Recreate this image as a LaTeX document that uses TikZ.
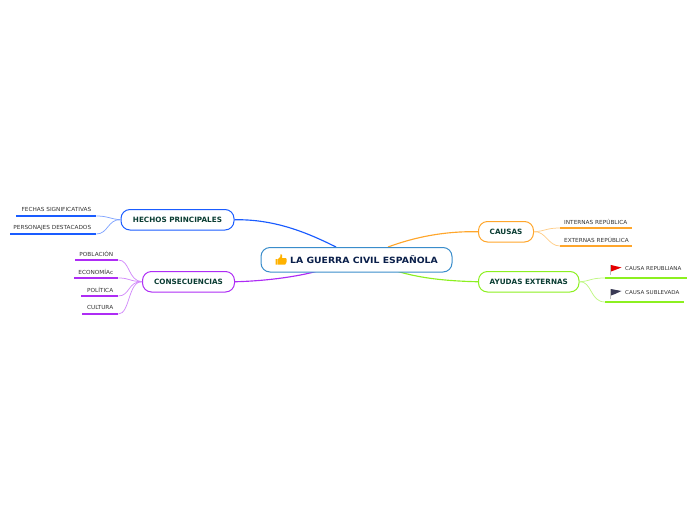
\documentclass[tikz,border=0pt]{standalone}
\usepackage{fontspec}
\setmainfont{DejaVu Sans}
\newfontfamily\rootfont[FakeStretch=1.08]{DejaVu Sans}
\newfontfamily\leaffont[FakeStretch=1.04]{DejaVu Sans}
\definecolor{cblue}{HTML}{1A5CFF}
\definecolor{cpurple}{HTML}{AE2CF5}
\definecolor{corange}{HTML}{FFA62B}
\definecolor{cgreen}{HTML}{8CF020}
\definecolor{croot}{HTML}{3A8DCB}
\definecolor{ctext}{HTML}{0B3D33}
\definecolor{croottext}{HTML}{0A1F4A}
\definecolor{cleaf}{HTML}{333333}
\definecolor{cflag}{HTML}{3A3A55}
\tikzset{
  x=1pt,y=-1pt,
  mainbox/.style={draw=#1,line width=1pt,rounded corners=9pt,fill=white,inner sep=0pt,anchor=north west,align=center,text=ctext,minimum height=20.5pt,font=\fontsize{7.25}{8}\selectfont\bfseries},
  leaf/.style={inner sep=0pt,anchor=south west,text=cleaf,minimum height=12pt,text width=#1,font=\leaffont\fontsize{5.55}{6}\selectfont},
  leafleft/.style={leaf=#1,align=flush right},
  leafright/.style={leaf=#1,align=flush left},
  flagleaf/.style={leafright=#1,minimum height=19pt,font=\leaffont\fontsize{5.35}{6}\selectfont},
  rule/.style={draw=#1,line width=1.9pt},
  trunk/.style={draw=#1,line width=1.15pt},
  twig/.style={draw=#1!55,line width=.75pt},
}
\begin{document}
\begin{tikzpicture}
\useasboundingbox (0,0) rectangle (696,520);
% anchors on the central box
\coordinate (rh) at (336,247);
\coordinate (rc) at (388,247);
\coordinate (rn) at (316,271.5);
\coordinate (ra) at (398,271.5);
% main boxes
\node[mainbox=cblue,minimum width=113pt] (hechos) at (120.5,209) {HECHOS PRINCIPALES};
\node[mainbox=cpurple,minimum width=92pt] (cons) at (142,271) {CONSECUENCIAS};
\node[mainbox=corange,minimum width=55pt] (causas) at (478,221) {CAUSAS};
\node[mainbox=cgreen,minimum width=100.5pt] (ayudas) at (478,271) {AYUDAS EXTERNAS};
% trunks
\draw[trunk=cblue] (hechos.east) .. controls (275,219) and (308,233) .. (rh);
\draw[trunk=cpurple] (cons.east) .. controls (265,281) and (295,277) .. (rn);
\draw[trunk=corange] (causas.west) .. controls (445,231) and (415,237) .. (rc);
\draw[trunk=cgreen] (ayudas.west) .. controls (445,281) and (420,278) .. (ra);
% central box
\node[draw=croot,line width=1pt,rounded corners=9pt,fill=white,inner sep=0pt,anchor=north west,minimum width=191pt,minimum height=24.5pt] (root) at (260.5,247) {};
\node[inner sep=0pt,anchor=west,text=croottext,font=\rootfont\fontsize{8.6}{9}\selectfont\bfseries] (roottext) at (290,259.5) {LA GUERRA CIVIL ESPAÑOLA};
% thumb icon
\fill[orange!60!yellow] (275.5,259) rectangle (277.6,264.5)
  (278.2,259) -- (280.2,257) -- (280.6,254) .. controls (282,253.5) and (282.5,255.5) .. (282,258) -- (286,258) .. controls (287,258.5) and (287,264) .. (285,264.5) -- (278.2,264.5) -- cycle;
% left leaves
\node[leafleft=80pt] (fechas) at (16,216) {FECHAS SIGNIFICATIVAS\hspace*{5pt}};
\node[leafleft=86pt] (person) at (10,234) {PERSONAJES DESTACADOS\hspace*{5pt}};
\node[leafleft=43pt] (pobl) at (75,260) {POBLACIÓN\hspace*{5pt}};
\node[leafleft=44pt] (econ) at (74,278) {ECONOMÍAc\hspace*{5pt}};
\node[leafleft=37pt] (poli) at (81,296) {POLÍTICA\hspace*{5pt}};
\node[leafleft=36pt] (cult) at (82,314) {CULTURA\hspace*{5pt}};
% right leaves
\node[leafright=72pt] (inter) at (560,228) {\hspace*{4pt}INTERNAS REPÚBLICA};
\node[leafright=72pt] (exter) at (560,246) {\hspace*{4pt}EXTERNAS REPÚBLICA};
\node[flagleaf=82pt] (repu) at (605,278) {\hspace*{20pt}CAUSA REPUBLIANA};
\node[flagleaf=79pt] (subl) at (605,302) {\hspace*{20pt}CAUSA SUBLEVADA};
% leaf rules
\draw[rule=cblue] (fechas.south west) -- (fechas.south east);
\draw[rule=cblue] (person.south west) -- (person.south east);
\foreach \n in {pobl,econ,poli,cult} \draw[rule=cpurple] (\n.south west) -- (\n.south east);
\foreach \n in {inter,exter} \draw[rule=corange] (\n.south west) -- (\n.south east);
\foreach \n in {repu,subl} \draw[rule=cgreen] (\n.south west) -- (\n.south east);
% twigs
\draw[twig=cblue] (hechos.west) .. controls (110,219) and (108,216) .. (fechas.south east);
\draw[twig=cblue] (hechos.west) .. controls (108,219) and (108,234) .. (person.south east);
\foreach \n in {pobl,econ,poli,cult}
  \draw[twig=cpurple] (cons.west) .. controls (128,281) and (130,0|-\n.south east) .. (\n.south east);
\draw[twig=corange] (causas.east) .. controls (546,231) and (546,228) .. (inter.south west);
\draw[twig=corange] (causas.east) .. controls (546,231) and (548,246) .. (exter.south west);
\draw[twig=cgreen] (ayudas.east) .. controls (591,281) and (590,278) .. (repu.south west);
\draw[twig=cgreen] (ayudas.east) .. controls (592,281) and (590,302) .. (subl.south west);
% flags
\draw[gray!50,line width=.8pt] (610.5,264.5) -- (610.5,275);
\fill[red!90!black] (611,265) -- (621.5,267.5) -- (615,270) -- (611,271.5) -- cycle;
\draw[gray!50,line width=.8pt] (610.5,288.5) -- (610.5,299);
\fill[cflag] (611,289) -- (621.5,291) -- (615,294) -- (611,295.5) -- cycle;
\end{tikzpicture}
\end{document}
